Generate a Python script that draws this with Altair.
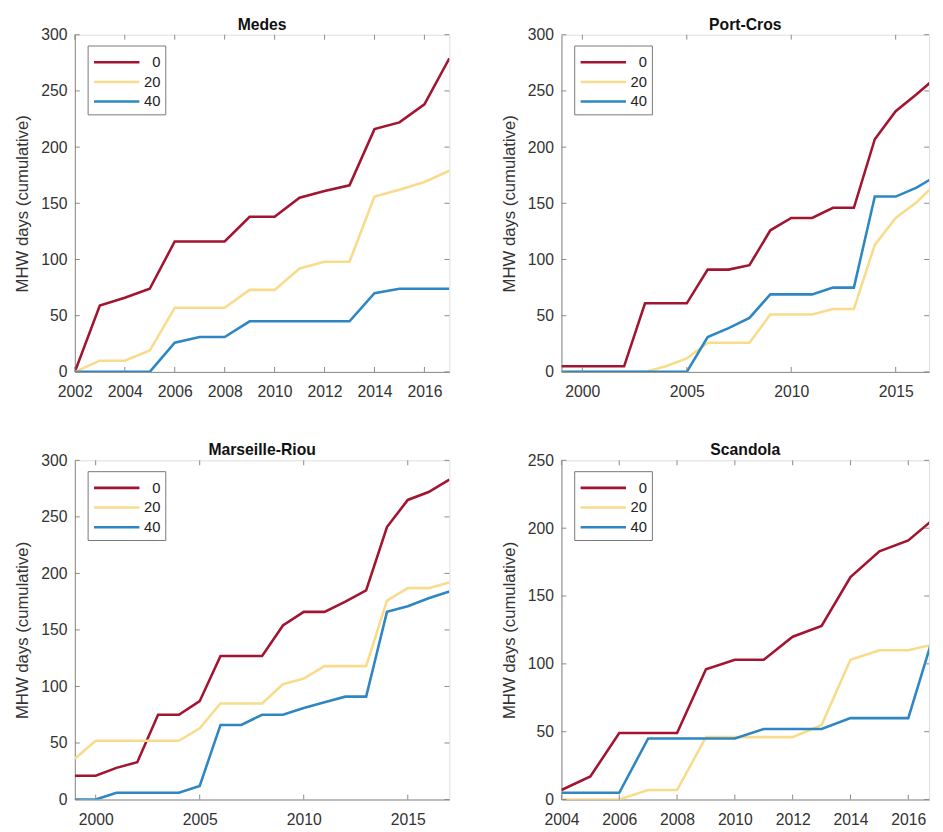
import altair as alt
import pandas as pd

depths = ["0", "20", "40"]
colors = ["#A2142F", "#F8DC8C", "#2E86C3"]

# Medes
medes_years = list(range(2002, 2018))
medes_0 = [0, 59, 66, 74, 116, 116, 116, 138, 138, 155, 161, 166, 216, 222, 238, 279]
medes_20 = [0, 10, 10, 19, 57, 57, 57, 73, 73, 92, 98, 98, 156, 162, 169, 179]
medes_40 = [0, 0, 0, 0, 26, 31, 31, 45, 45, 45, 45, 45, 70, 74, 74, 74]
medes_xticks = [2002, 2004, 2006, 2008, 2010, 2012, 2014, 2016]

# Port-Cros (the reference crops the panel just before 2017)
portcros_years = list(range(1999, 2018))
portcros_0 = [5, 5, 5, 5, 61, 61, 61, 91, 91, 95, 126, 137, 137, 146, 146, 207, 232, 247, 263]
portcros_20 = [0, 0, 0, 0, 0, 5, 12, 26, 26, 26, 51, 51, 51, 56, 56, 113, 137, 151, 169]
portcros_40 = [0, 0, 0, 0, 0, 0, 0, 31, 39, 48, 69, 69, 69, 75, 75, 156, 156, 164, 175]
portcros_xticks = [2000, 2005, 2010, 2015]
portcros_xdomain = [1999, 2016.6]

# Marseille-Riou
riou_years = list(range(1999, 2018))
riou_0 = [21, 21, 28, 33, 75, 75, 87, 127, 127, 127, 154, 166, 166, 175, 185, 241, 265, 272, 283]
riou_20 = [36, 52, 52, 52, 52, 52, 63, 85, 85, 85, 102, 107, 118, 118, 118, 176, 187, 187, 192]
riou_40 = [0, 0, 6, 6, 6, 6, 12, 66, 66, 75, 75, 81, 86, 91, 91, 166, 171, 178, 184]
riou_xticks = [2000, 2005, 2010, 2015]

# Scandola (the reference crops the panel just before 2017)
scandola_years = list(range(2004, 2018))
scandola_0 = [7, 17, 49, 49, 49, 96, 103, 103, 120, 128, 164, 183, 191, 209]
scandola_20 = [0, 0, 0, 7, 7, 46, 46, 46, 46, 55, 103, 110, 110, 115]
scandola_40 = [5, 5, 5, 45, 45, 45, 45, 52, 52, 52, 60, 60, 60, 130]
scandola_xticks = [2004, 2006, 2008, 2010, 2012, 2014, 2016]
scandola_xdomain = [2004, 2016.72]

yticks_300 = [0, 50, 100, 150, 200, 250, 300]
yticks_250 = [0, 50, 100, 150, 200, 250]

FONT = "Liberation Sans"
GRAY = "#8a8a8a"
TXT = "#333333"
TICK = 5


def panel(title, years, s0, s20, s40, xticks, xdomain, ymax, yticks, width, height):
    rows = []
    for d, s in zip(depths, [s0, s20, s40]):
        for yr, v in zip(years, s):
            rows.append({"year": yr, "value": v, "depth": d})
    df = pd.DataFrame(rows)
    xscale = alt.Scale(domain=xdomain, nice=False, zero=False)
    yscale = alt.Scale(domain=[0, ymax], nice=False)
    xaxis = alt.Axis(values=xticks, format="d", title=None, ticks=False,
                     labelPadding=12, grid=False, labelFontSize=16,
                     labelColor=TXT, labelFont=FONT, domainColor=GRAY,
                     labelFlush=False)
    yaxis = alt.Axis(values=yticks, title="MHW days (cumulative)", ticks=False,
                     labelPadding=8, grid=False, labelFontSize=16,
                     labelColor=TXT, labelFont=FONT, titleFont=FONT,
                     titleFontSize=17, titleFontWeight="normal",
                     titleColor=TXT, titlePadding=9, domainColor=GRAY)

    lines = alt.Chart(df).mark_line(strokeWidth=2.6, clip=True).encode(
        x=alt.X("year:Q", scale=xscale, axis=xaxis),
        y=alt.Y("value:Q", scale=yscale, axis=yaxis),
        color=alt.Color("depth:N", scale=alt.Scale(domain=depths, range=colors),
                        legend=alt.Legend(orient="none", legendX=13, legendY=11,
                                          title=None, symbolType="M-1,0H3.4",
                                          symbolStrokeWidth=2.6, symbolSize=441,
                                          labelFontSize=15, labelFont=FONT,
                                          labelColor="#222222", labelAlign="right",
                                          labelOffset=45, rowPadding=0,
                                          fillColor="white", strokeColor="#777777",
                                          padding=5, labelLimit=60)),
    )

    xt = pd.DataFrame({"year": xticks})
    yt = pd.DataFrame({"value": yticks})
    xb = alt.Chart(xt).mark_rule(color=GRAY, strokeWidth=1).encode(
        x=alt.X("year:Q", scale=xscale, axis=xaxis),
        y=alt.value(height), y2=alt.value(height - TICK))
    xtop = alt.Chart(xt).mark_rule(color=GRAY, strokeWidth=1).encode(
        x=alt.X("year:Q", scale=xscale, axis=xaxis),
        y=alt.value(0), y2=alt.value(TICK))
    yl = alt.Chart(yt).mark_rule(color=GRAY, strokeWidth=1).encode(
        y=alt.Y("value:Q", scale=yscale, axis=yaxis),
        x=alt.value(0), x2=alt.value(TICK))
    yr_ = alt.Chart(yt).mark_rule(color=GRAY, strokeWidth=1).encode(
        y=alt.Y("value:Q", scale=yscale, axis=yaxis),
        x=alt.value(width), x2=alt.value(width - TICK))

    return alt.layer(lines, xb, xtop, yl, yr_).properties(
        width=width, height=height,
        title=alt.TitleParams(title, fontSize=16, fontWeight="bold", font=FONT,
                              color="#111111", offset=-6, frame="group"))


p1 = panel("Medes", medes_years, medes_0, medes_20, medes_40, medes_xticks,
           [medes_years[0], medes_years[-1]], 300, yticks_300, 381, 343)
p2 = panel("Port-Cros", portcros_years, portcros_0, portcros_20, portcros_40,
           portcros_xticks, portcros_xdomain, 300, yticks_300, 374, 343)
p3 = panel("Marseille-Riou", riou_years, riou_0, riou_20, riou_40, riou_xticks,
           [riou_years[0], riou_years[-1]], 300, yticks_300, 381, 345)
p4 = panel("Scandola", scandola_years, scandola_0, scandola_20, scandola_40,
           scandola_xticks, scandola_xdomain, 250, yticks_250, 374, 345)

top = alt.hconcat(p1, p2, spacing=50).resolve_scale(
    color="independent", x="independent", y="independent").resolve_legend(color="independent")
bottom = alt.hconcat(p3, p4, spacing=50).resolve_scale(
    color="independent", x="independent", y="independent").resolve_legend(color="independent")

chart = alt.vconcat(top, bottom, spacing=42).resolve_scale(
    color="independent", x="independent", y="independent").resolve_legend(
    color="independent").properties(
    padding={"left": 5, "top": 1, "right": 5, "bottom": 5}
).configure_view(stroke=GRAY, strokeWidth=1).configure(background="white")

chart.save("out.html", embed_options={"renderer": "svg", "actions": False})
